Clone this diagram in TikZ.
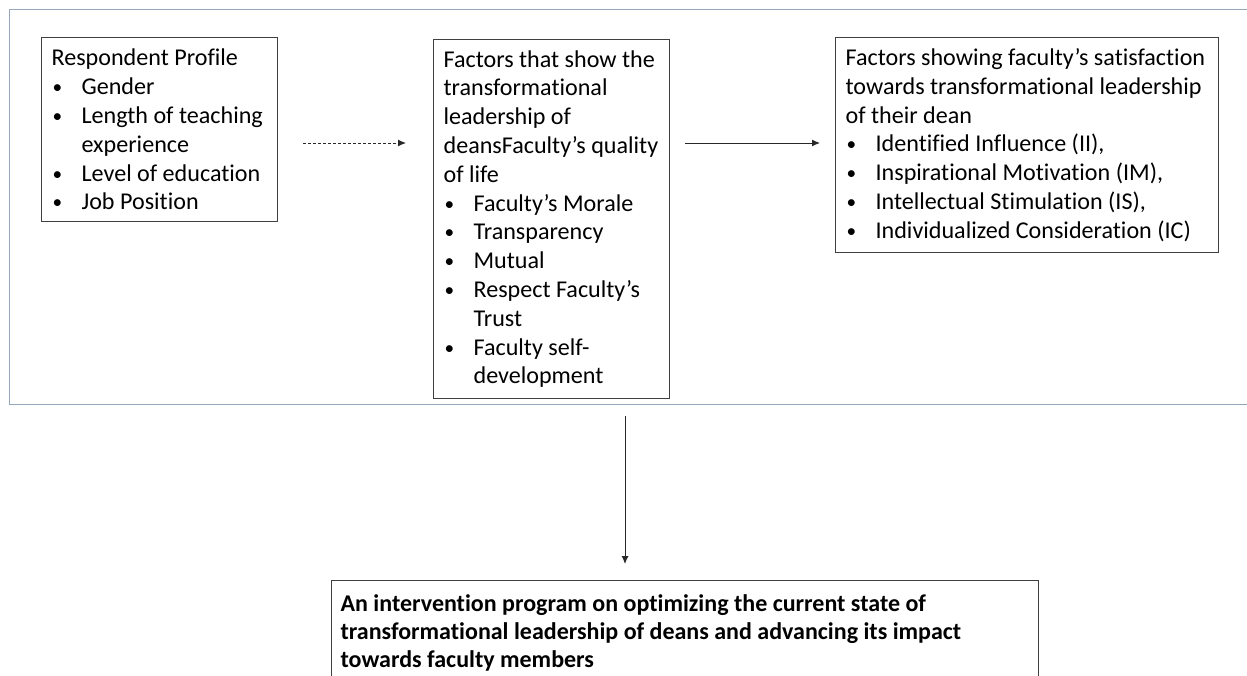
\documentclass[tikz,border=0pt]{standalone}
\usepackage{fontspec}
\setmainfont{Carlito}[Ligatures=NoCommon]
\usetikzlibrary{arrows.meta}
\definecolor{framecol}{RGB}{148,168,188}
\definecolor{boxcol}{RGB}{64,64,64}
\definecolor{arrowcol}{RGB}{40,40,40}
\newcommand{\bl}[1]{\makebox[30pt][l]{\hspace*{1pt}\raisebox{1pt}{\scalebox{0.8}{\textbullet}}}#1}
\newcommand{\ct}[1]{\hspace*{30pt}#1}
\begin{document}
\begin{tikzpicture}[x=1pt,y=-1pt,
  box/.style={draw=boxcol, line width=1.2pt, anchor=north west, inner xsep=10pt, inner ysep=0pt,
    align=flush left, font=\fontsize{24.1}{28.8}\selectfont},
  frame/.style={draw=framecol, line width=1.2pt, anchor=north west, inner sep=0pt},
  conn/.style={draw=arrowcol, line width=1pt, -{Latex[length=8pt,width=7pt]}},
  dconn/.style={conn, dash pattern=on 3pt off 2pt}]
\useasboundingbox (0,0) rectangle (1247,675);
\fill[white] (0,0) rectangle (1247,675);
\clip (0,0) rectangle (1247,675);

\node[frame, minimum width=1260pt, minimum height=395pt] (frame) at (9,9) {};

\node[box, minimum width=236pt, minimum height=184pt, text width=216pt] (b1) at (41,37) {%
Respondent Profile\\
\bl{Gender}\\
\bl{Length of teaching}\\
\ct{experience}\\
\bl{Level of education}\\
\bl{Job Position}};

\node[box, minimum width=236pt, minimum height=359pt, text width=216pt] (b2) at (433,39) {%
Factors that show the\\
transformational\\
leadership of\\
deansFaculty’s quality\\
of life\\
\bl{Faculty’s Morale}\\
\bl{Transparency}\\
\bl{Mutual}\\
\bl{Respect Faculty’s}\\
\ct{Trust}\\
\bl{Faculty self-}\\
\ct{development}};

\node[box, minimum width=383pt, minimum height=215pt, text width=363pt] (b3) at (835,37) {%
Factors showing faculty’s satisfaction\\
towards transformational leadership\\
of their dean\\
\bl{Identified Influence (II),}\\
\bl{Inspirational Motivation (IM),}\\
\bl{Intellectual Stimulation (IS),}\\
\bl{Individualized Consideration (IC)}};

\node[box, font=\bfseries\fontsize{24}{28}\selectfont, minimum width=707pt, minimum height=104pt, text width=689pt, inner xsep=9pt] (b4) at (331,580) {%
An intervention program on optimizing the current state of\\
transformational leadership of deans and advancing its impact\\
towards faculty members};

\coordinate (d1) at (303,143);
\coordinate (d2) at (406,143);
\coordinate (s1) at (685,143);
\coordinate (s2) at (820,143);
\coordinate (v1) at (625,416);
\coordinate (v2) at (625,564);
\draw[dconn] (d1) -- (d2);
\draw[conn] (s1) -- (s2);
\draw[conn] (v1) -- (v2);
\end{tikzpicture}
\end{document}
